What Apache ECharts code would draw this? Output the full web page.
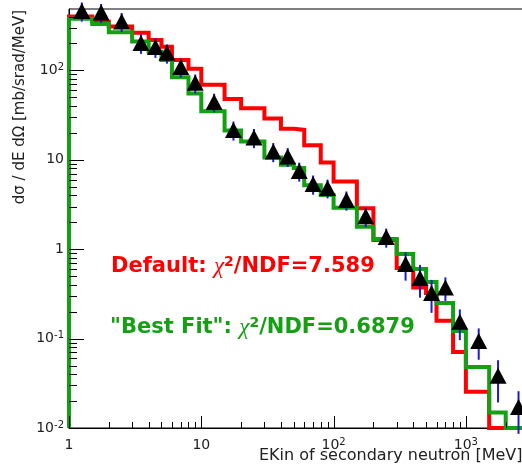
<!DOCTYPE html>
<html>
<head>
<meta charset="utf-8">
<script src="https://cdn.jsdelivr.net/npm/echarts@6/dist/echarts.min.js"></script>
<style>
html, body { margin: 0; padding: 0; background: #fff; }
#main { width: 522px; height: 465px; }
</style>
</head>
<body>
<div id="main"></div>
<script>
// histogram bin edges [MeV]
var binEdges = [1, 1.5, 2, 3, 4, 5, 6, 8, 10, 15, 20, 30, 40, 50, 60, 80, 100,
    150, 200, 300, 400, 500, 600, 800, 1000, 1500, 2000, 3000];
// "Default" model (red)
var defaultVals = [400, 351, 309, 263, 219, 184, 131, 104, 69, 48, 37.6, 29, 22.2, 21.6,
    14.5, 9.35, 5.7, 2.87, 1.27, 0.618, 0.374, 0.324, 0.158, 0.071, 0.0254, 0.01, 0.01];
// "Best Fit" model (green)
var bestFitVals = [377, 331, 267, 210, 162, 131, 84, 55, 35, 21.3, 16.0, 10.6, 8.8, 8.1,
    5.2, 4.05, 2.9, 1.78, 1.30, 0.886, 0.60, 0.43, 0.25, 0.122, 0.048, 0.0149, 0.01];
// measured points
var dataE = [1.25, 1.75, 2.5, 3.5, 4.5, 5.5, 7, 9, 12.5, 17.5, 25, 35, 45, 55, 70, 90,
    125, 175, 250, 350, 450, 550, 700, 900, 1250, 1750, 2500];
var dataVal = [463, 445, 353, 203, 183, 157, 109, 72.5, 44.4, 21.6, 17.8, 12.4, 10.9, 7.5,
    5.37, 4.85, 3.56, 2.33, 1.37, 0.685, 0.477, 0.324, 0.374, 0.154, 0.094, 0.0383, 0.0172];
var dataErr = [112, 108, 85, 50, 45, 38, 26, 17.5, 10.5, 5.2, 4.3, 3.0, 2.6, 1.8,
    1.3, 1.15, 0.86, 0.56, 0.33, 0.24, 0.19, 0.13, 0.11, 0.058, 0.036, 0.019, 0.0086];
// axis ticks
var xMajor = [1, 10, 100, 1000];
var yMajor = [0.01, 0.1, 1, 10, 100];
var minorSteps = [2, 3, 4, 5, 6, 7, 8, 9];
var xMin = 1, xMax = 3000, yMin = 0.01, yMax = 486;

var chart = echarts.init(document.getElementById('main'));

function stepData(vals) {
    var pts = [[binEdges[0], yMin]];
    for (var i = 0; i < vals.length; i++) pts.push([binEdges[i], vals[i]]);
    pts.push([binEdges[binEdges.length - 1], vals[vals.length - 1]]);
    return pts;
}

var points = dataE.map(function (e, i) { return [e, dataVal[i]]; });
var errs = dataE.map(function (e, i) { return [e, dataVal[i], dataErr[i]]; });

var xTicks = [], yTicks = [];
xMajor.forEach(function (d) {
    xTicks.push([d, yMin, 12]);
    minorSteps.forEach(function (m) { if (d * m < xMax) xTicks.push([d * m, yMin, 6]); });
});
yMajor.forEach(function (d) {
    yTicks.push([xMin, d, 15]);
    minorSteps.forEach(function (m) { if (d * m < yMax) yTicks.push([xMin, d * m, 8]); });
});

function powLabel(v) {
    var l = Math.log10(v), e = Math.round(l);
    if (Math.abs(l - e) > 1e-6) return '';
    if (e === 0) return '{b|1}';
    if (e === 1) return '{b|10}';
    return '{b|10}{s|' + e + '}';
}

var labelRich = {
    b: { fontFamily: 'DejaVu Sans', fontSize: 14, lineHeight: 16, color: '#222' },
    s: { fontFamily: 'DejaVu Sans', fontSize: 10, lineHeight: 10, color: '#222', verticalAlign: 'top' }
};

function tickX(params, api) {
    var p = api.coord([api.value(0), api.value(1)]);
    var x = Math.round(p[0]) + 0.5;
    return { type: 'line', shape: { x1: x, y1: p[1], x2: x, y2: p[1] - api.value(2) },
        style: { stroke: '#000', lineWidth: 1 } };
}
function tickY(params, api) {
    var p = api.coord([api.value(0), api.value(1)]);
    var y = Math.round(p[1]) + 0.5;
    return { type: 'line', shape: { x1: p[0], y1: y, x2: p[0] + api.value(2), y2: y },
        style: { stroke: '#000', lineWidth: 1 } };
}
function errBar(params, api) {
    var x = api.value(0), y = api.value(1), e = api.value(2);
    var lo = api.coord([x, y - e]), hi = api.coord([x, y + e]);
    return { type: 'line', shape: { x1: lo[0], y1: lo[1], x2: hi[0], y2: hi[1] },
        style: { stroke: '#1c1cd0', lineWidth: 2 } };
}

function bigText(label, value) {
    return '{t|' + label + '}{c|χ}{s|2}{t|/NDF=' + value + '}';
}
function bigRich(color) {
    return {
        t: { fontFamily: 'DejaVu Sans', fontWeight: 'bold', fontSize: 21, lineHeight: 24, fill: color, color: color },
        c: { fontFamily: 'Liberation Serif', fontStyle: 'italic', fontSize: 23, lineHeight: 24, fill: color, color: color },
        s: { fontFamily: 'DejaVu Sans', fontWeight: 'bold', fontSize: 14, lineHeight: 14, fill: color, color: color, verticalAlign: 'top' }
    };
}

var option = {
    animation: false,
    backgroundColor: '#fff',
    grid: { left: 69, right: -7, top: 9, bottom: 37, show: true, borderColor: '#000',
        borderWidth: 1, containLabel: false, outerBoundsMode: 'none' },
    xAxis: {
        type: 'log', logBase: 10, min: xMin, max: xMax,
        axisLine: { onZero: false, lineStyle: { color: '#000', width: 1 } },
        axisTick: { show: false }, splitLine: { show: false },
        axisLabel: { formatter: powLabel, margin: 9, rich: labelRich, showMinLabel: true, showMaxLabel: true }
    },
    yAxis: {
        type: 'log', logBase: 10, min: yMin, max: yMax,
        axisLine: { onZero: false, lineStyle: { color: '#000', width: 1 } },
        axisTick: { show: false }, splitLine: { show: false },
        axisLabel: { formatter: powLabel, margin: 5, rich: labelRich, showMinLabel: true, showMaxLabel: true }
    },
    graphic: [
        { type: 'text', x: 20, y: 10, rotation: Math.PI / 2, silent: true,
          style: { text: 'dσ / dE dΩ [mb/srad/MeV]', align: 'right', verticalAlign: 'middle',
                   textAlign: 'right', textVerticalAlign: 'middle',
                   fontFamily: 'DejaVu Sans', fontSize: 15, fill: '#222' } },
        { type: 'text', x: 259, y: 456, silent: true,
          style: { text: 'EKin of secondary neutron [MeV]', align: 'left', verticalAlign: 'middle',
                   textAlign: 'left', textVerticalAlign: 'middle',
                   fontFamily: 'DejaVu Sans', fontSize: 16, fill: '#222' } },
        { type: 'text', x: 111, y: 267, silent: true, z: 10,
          style: { text: bigText('Default: ', '7.589'), rich: bigRich('#ff0000'),
                   align: 'left', verticalAlign: 'middle', textAlign: 'left', textVerticalAlign: 'middle',
                   fill: '#ff0000' } },
        { type: 'text', x: 110, y: 328, silent: true, z: 10,
          style: { text: bigText('"Best Fit": ', '0.6879'), rich: bigRich('#13a013'),
                   align: 'left', verticalAlign: 'middle', textAlign: 'left', textVerticalAlign: 'middle',
                   fill: '#13a013' } }
    ],
    series: [
        { name: 'Default', type: 'line', step: 'end', data: stepData(defaultVals), symbol: 'none', z: 2,
          lineStyle: { color: '#ff0000', width: 4, join: 'miter', cap: 'butt' }, silent: true },
        { name: 'Best Fit', type: 'line', step: 'end', data: stepData(bestFitVals), symbol: 'none', z: 3,
          lineStyle: { color: '#13a013', width: 4, join: 'miter', cap: 'butt' }, silent: true },
        { name: 'errors', type: 'custom', data: errs, renderItem: errBar, z: 4, silent: true, clip: false },
        { name: 'Data', type: 'scatter', data: points, symbol: 'triangle', symbolSize: [17, 16],
          itemStyle: { color: '#000', opacity: 1 }, z: 5, silent: true, clip: false },
        { name: 'xticks', type: 'custom', data: xTicks, renderItem: tickX, z: 6, silent: true },
        { name: 'yticks', type: 'custom', data: yTicks, renderItem: tickY, z: 6, silent: true }
    ]
};
chart.setOption(option);
</script>
</body>
</html>
